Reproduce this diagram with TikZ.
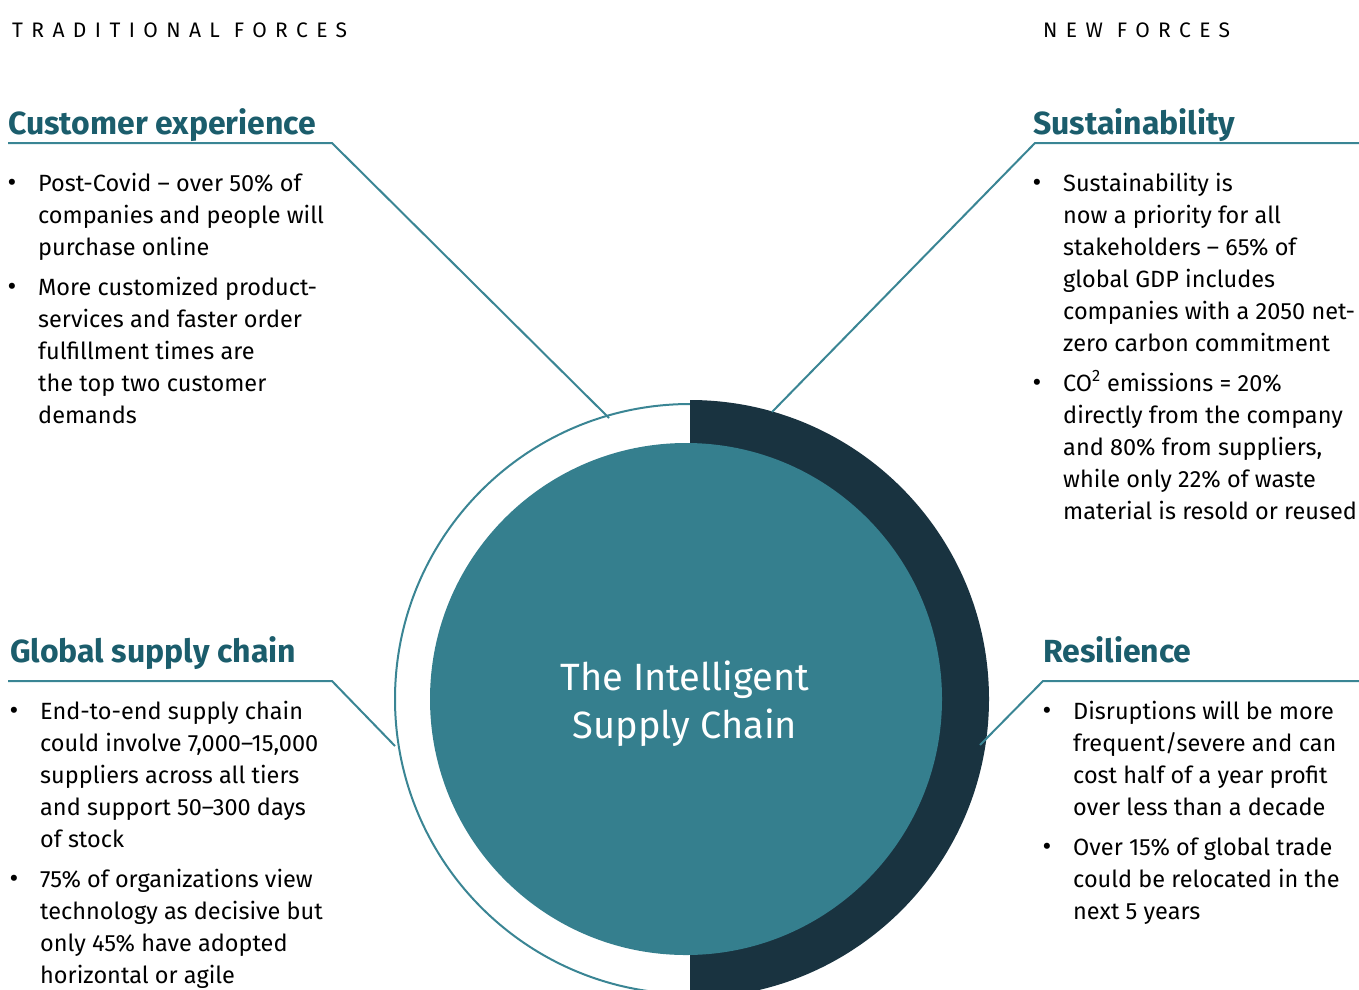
\documentclass[tikz,border=0pt]{standalone}
\usepackage{fontspec}
\setmainfont{Fira Sans}
\usetikzlibrary{positioning}

\definecolor{diskteal}{HTML}{357F8E}
\definecolor{bandnavy}{HTML}{193340}
\definecolor{headteal}{HTML}{1B5D6C}
\definecolor{lineteal}{HTML}{3A8594}

\tikzset{
  forcelabel/.style={anchor=west, inner sep=0pt,
    font=\fontsize{21}{24}\selectfont\addfontfeatures{LetterSpace=40}},
  headlabel/.style={anchor=base west, inner sep=0pt, text=headteal,
    font=\fontsize{32}{36}\selectfont\bfseries},
  bodytext/.style={anchor=base west, inner sep=0pt, align=left,
    font=\fontsize{23.5}{32}\selectfont},
  dotmark/.style={anchor=base, inner sep=0pt, font=\fontsize{27}{32}\selectfont},
  leader/.style={draw=lineteal, line width=2pt},
}

\begin{document}
\begin{tikzpicture}[x=1pt,y=-1pt]

\useasboundingbox (0,0) rectangle (1359,989);
\clip (0,0) rectangle (1359,989);

% --- titulos de las columnas ---
\node[forcelabel] (oldforces) at (12,30) {TRADITIONAL FORCES};
\node[forcelabel] (newforces) at (1043,30) {NEW FORCES};

% --- circulo central ---
\node[circle, draw=lineteal, line width=2pt, minimum size=590pt, inner sep=0pt] (ring) at (690,699) {};
\fill[bandnavy] (690,400) arc[start angle=-90, end angle=90, radius=299] -- cycle;
\node[circle, fill=diskteal, minimum size=512pt, inner sep=0pt] (disk) at (686,699) {};
\node[text=white, align=center, font=\fontsize{38}{48}\selectfont] (core) at (685,704)
  {The Intelligent\\Supply Chain};

% --- Customer experience ---
% (los bloques de texto se anclan en la linea base de su ultima linea)
\node[headlabel] (custhead) at (8,134) {Customer experience};
\node[dotmark] (custdot1) at (12,191) {•};
\node[bodytext] (custtext1) at (38,255) {Post-Covid – over 50\% of\\companies and people will\\purchase online};
\node[dotmark] (custdot2) at (12,295) {•};
\node[bodytext] (custtext2) at (38,423) {More customized product-\\services and faster order\\fulfillment times are\\the top two customer\\demands};

% --- Sustainability ---
\node[headlabel] (sushead) at (1033,134) {Sustainability};
\node[dotmark] (susdot1) at (1037,191) {•};
\node[bodytext] (sustext1) at (1063,351) {Sustainability is\\now a priority for all\\stakeholders – 65\% of\\global GDP includes\\companies with a 2050 net-\\zero carbon commitment};
\node[dotmark] (susdot2) at (1037,391) {•};
\node[bodytext] (sustext2) at (1063,519) {CO\textsuperscript{2} emissions = 20\%\\directly from the company\\and 80\% from suppliers,\\while only 22\% of waste\\material is resold or reused};

% --- Global supply chain ---
\node[headlabel] (globhead) at (10,662) {Global supply chain};
\node[dotmark] (globdot1) at (14,719) {•};
\node[bodytext] (globtext1) at (40,847) {End-to-end supply chain\\could involve 7,000–15,000\\suppliers across all tiers\\and support 50–300 days\\of stock};
\node[dotmark] (globdot2) at (14,887) {•};
\node[bodytext] (globtext2) at (40,983) {75\% of organizations view\\technology as decisive but\\only 45\% have adopted\\horizontal or agile};

% --- Resilience ---
\node[headlabel] (reshead) at (1043,662) {Resilience};
\node[dotmark] (resdot1) at (1047,719) {•};
\node[bodytext] (restext1) at (1073,815) {Disruptions will be more\\frequent/severe and can\\cost half of a year profit\\over less than a decade};
\node[dotmark] (resdot2) at (1047,855) {•};
\node[bodytext] (restext2) at (1073,919) {Over 15\% of global trade\\could be relocated in the\\next 5 years};

% --- lineas guia ---
\coordinate (custL) at (8,143);
\coordinate (custR) at (332,143);
\coordinate (custTip) at (609,418);
\coordinate (susL) at (1035,143);
\coordinate (susR) at (1359,143);
\coordinate (susTip) at (772,412);
\coordinate (globL) at (8,681);
\coordinate (globR) at (332,681);
\coordinate (globTip) at (395,746);
\coordinate (resL) at (1043,681);
\coordinate (resR) at (1359,681);
\coordinate (resTip) at (980,745);

\draw[leader] (custL) -- (custR) -- (custTip);
\draw[leader] (susR) -- (susL) -- (susTip);
\draw[leader] (globL) -- (globR) -- (globTip);
\draw[leader] (resR) -- (resL) -- (resTip);

\end{tikzpicture}
\end{document}
